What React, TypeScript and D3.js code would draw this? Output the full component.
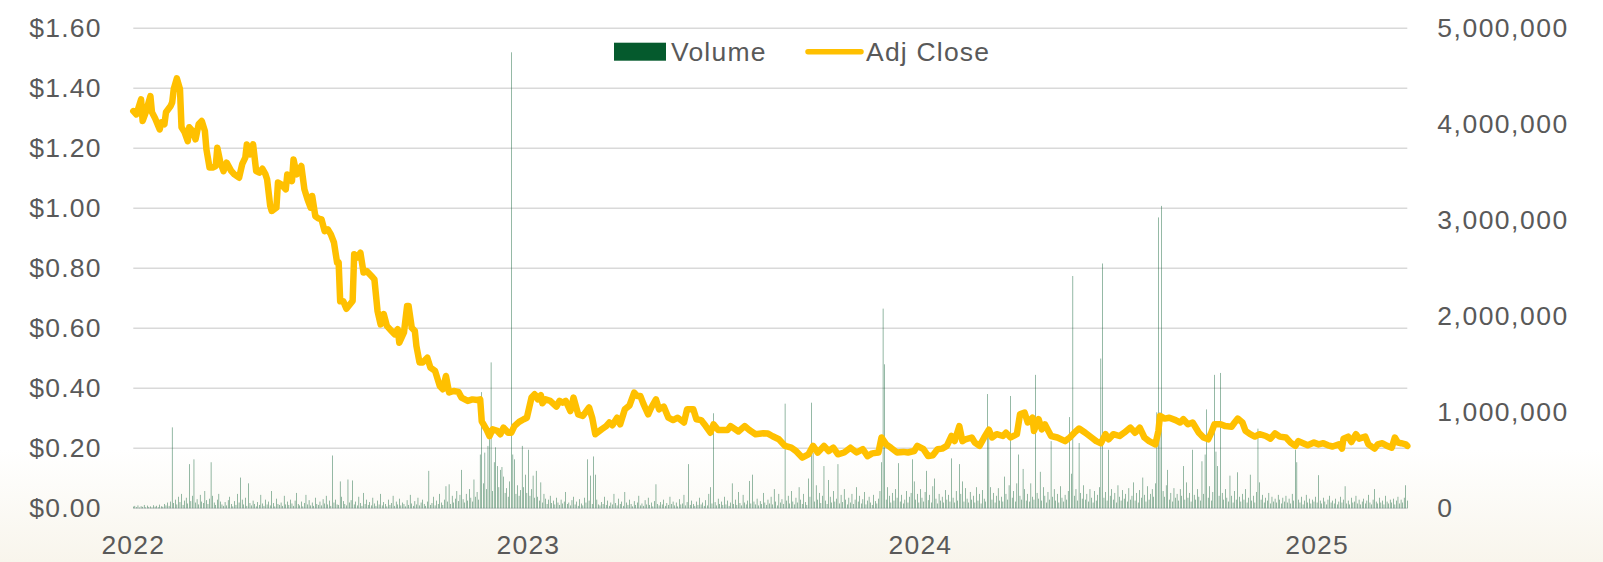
import React from 'react';
import * as d3 from 'd3';

const W = 1603;
const H = 562;

// Adj Close: trading-day index and value
const priceDays = [0,2,5,6,8,11,12,14,17,18,20,21,24,25,26,28,30,31,33,35,36,38,40,42,44,46,47,49,51,53,54,56,58,60,63,65,68,70,72,73,75,77,79,81,83,85,86,88,89,92,93,95,98,99,102,103,105,108,110,112,114,115,117,119,121,123,125,127,129,131,132,133,135,137,141,142,144,146,148,150,154,155,157,159,161,163,166,168,170,171,174,176,177,179,181,182,184,186,189,191,194,197,199,201,203,206,209,211,215,218,221,223,224,227,229,231,234,236,238,241,243,245,248,251,253,256,258,260,262,263,265,268,272,274,276,278,281,283,286,289,293,295,297,301,304,306,308,311,313,316,319,322,324,326,328,331,333,336,338,341,344,347,350,354,356,360,362,365,368,371,373,376,379,382,384,389,393,396,400,405,408,411,415,419,423,426,430,434,437,440,444,447,450,453,457,461,465,469,472,475,479,481,484,487,491,495,498,502,504,508,511,514,517,520,523,526,528,531,533,535,539,541,544,547,550,552,555,559,561,564,568,570,573,575,578,579,582,584,586,590,594,599,602,605,608,612,616,619,622,625,627,630,634,637,641,644,647,650,653,657,659,660,663,666,670,673,675,678,681,685,688,691,693,695,699,702,706,708,710,713,715,718,721,724,728,731,734,737,741,744,747,749,752,755,759,762,765,768,771,775,777,778,781,783,786,788,792,794,798,800,803,806,809,811,813,815,818,819];
const priceValues = [1.324,1.313,1.363,1.291,1.32,1.374,1.32,1.30,1.263,1.287,1.28,1.32,1.341,1.353,1.397,1.433,1.397,1.27,1.253,1.224,1.27,1.258,1.23,1.28,1.291,1.258,1.197,1.136,1.136,1.141,1.202,1.152,1.124,1.152,1.124,1.113,1.102,1.147,1.169,1.213,1.18,1.213,1.124,1.119,1.132,1.113,1.097,1.008,0.991,1.002,1.086,1.08,1.063,1.113,1.091,1.163,1.113,1.141,1.063,1.03,1.002,1.041,0.974,0.966,0.963,0.924,0.93,0.913,0.886,0.819,0.82,0.69,0.69,0.665,0.691,0.847,0.836,0.852,0.786,0.791,0.769,0.763,0.658,0.613,0.647,0.608,0.591,0.58,0.597,0.552,0.586,0.674,0.674,0.602,0.591,0.541,0.486,0.486,0.502,0.469,0.458,0.408,0.397,0.441,0.386,0.391,0.388,0.369,0.358,0.363,0.361,0.363,0.29,0.263,0.241,0.263,0.258,0.247,0.269,0.252,0.252,0.274,0.288,0.297,0.302,0.369,0.38,0.363,0.377,0.35,0.363,0.358,0.339,0.358,0.352,0.358,0.324,0.369,0.313,0.308,0.336,0.302,0.247,0.263,0.274,0.286,0.277,0.302,0.28,0.33,0.343,0.386,0.374,0.374,0.347,0.313,0.336,0.363,0.33,0.339,0.302,0.294,0.302,0.286,0.33,0.33,0.297,0.294,0.274,0.252,0.28,0.261,0.261,0.261,0.274,0.256,0.274,0.261,0.247,0.25,0.249,0.24,0.23,0.208,0.202,0.191,0.169,0.18,0.208,0.186,0.208,0.191,0.202,0.18,0.186,0.202,0.186,0.197,0.174,0.183,0.186,0.236,0.213,0.202,0.186,0.188,0.186,0.191,0.208,0.197,0.174,0.177,0.197,0.199,0.208,0.241,0.224,0.274,0.224,0.23,0.236,0.219,0.208,0.236,0.262,0.236,0.247,0.241,0.252,0.236,0.247,0.313,0.319,0.286,0.302,0.258,0.297,0.263,0.28,0.241,0.236,0.224,0.236,0.252,0.266,0.252,0.236,0.224,0.217,0.247,0.23,0.247,0.241,0.252,0.269,0.252,0.269,0.236,0.224,0.213,0.258,0.308,0.299,0.302,0.294,0.286,0.297,0.28,0.286,0.252,0.236,0.23,0.252,0.28,0.28,0.274,0.272,0.286,0.299,0.286,0.258,0.247,0.239,0.247,0.241,0.232,0.25,0.239,0.236,0.219,0.208,0.224,0.217,0.21,0.219,0.213,0.217,0.21,0.206,0.213,0.199,0.232,0.239,0.221,0.247,0.232,0.239,0.213,0.199,0.213,0.217,0.208,0.202,0.236,0.219,0.217,0.213,0.208];

// Volume per trading day, in thousands of shares
const volumeK = [
18,25,12,30,8,22,15,35,10,28,14,20,9,32,17,26,11,38,21,16,
45,30,60,25,70,843,55,90,40,120,65,150,35,80,110,50,460,75,130,510,
60,95,40,140,70,55,180,85,45,100,480,130,60,35,90,150,70,40,25,65,
30,85,120,45,20,75,35,150,60,320,90,40,110,25,260,55,30,80,45,20,
65,35,140,50,25,90,40,70,30,180,55,20,100,45,35,60,25,130,40,70,
35,90,50,25,80,160,45,30,70,20,55,140,40,85,30,60,25,110,45,35,
70,30,95,50,130,40,80,25,550,60,90,40,35,280,120,75,45,30,300,60,
85,290,40,70,30,120,55,25,160,45,90,35,65,30,110,50,25,80,40,150,
30,65,45,20,90,35,55,130,25,70,40,100,30,60,45,20,85,35,140,50,
25,75,40,110,30,60,90,45,25,70,390,35,55,120,30,80,45,150,60,35,
90,230,70,250,45,130,60,100,180,75,140,400,95,60,150,80,200,110,70,300,
120,170,90,560,1210,260,580,200,650,720,1520,180,480,635,440,220,400,430,330,160,
210,120,280,4750,560,510,150,240,130,190,650,220,350,160,610,130,200,340,110,390,
120,80,270,60,150,100,45,90,130,55,80,40,110,60,35,90,50,70,170,45,
60,30,85,120,40,70,25,95,50,30,110,60,510,80,340,45,540,350,90,40,
30,65,45,120,35,80,25,60,40,150,55,30,100,45,70,25,170,60,35,90,
45,20,75,35,60,130,30,50,25,85,40,110,35,60,20,75,250,45,30,65,
40,90,25,55,35,120,45,70,30,60,20,95,40,50,140,30,65,460,35,80,
45,25,70,35,110,40,60,25,85,30,150,220,50,990,65,30,100,45,70,35,
120,40,80,25,60,260,45,90,35,170,55,30,140,60,40,80,285,50,350,70,
40,100,30,75,45,160,60,35,90,50,120,40,200,70,30,150,60,95,45,1090,
80,130,50,180,70,40,110,60,220,90,45,150,65,35,310,120,1100,580,70,240,
90,160,55,130,440,80,45,295,120,60,180,70,100,460,50,140,65,200,90,40,
110,60,150,45,90,220,70,130,50,95,170,40,80,120,60,35,140,75,50,100,
180,480,2080,1500,90,220,130,60,160,80,200,110,470,70,140,50,90,180,60,120,
160,510,280,90,150,60,200,110,70,170,390,85,140,60,230,310,100,50,150,80,
120,60,190,90,140,70,520,110,60,180,80,460,150,280,70,210,100,60,170,90,
130,60,220,80,150,50,190,100,70,1190,800,220,90,160,60,130,210,80,120,70,
330,150,90,240,1170,110,180,70,260,560,130,90,410,200,80,150,70,260,120,90,
1390,160,100,380,80,220,130,60,170,90,700,120,200,80,150,60,230,110,70,140,
90,180,950,360,2420,130,200,80,680,160,100,240,90,150,70,200,110,60,180,80,
140,220,1560,2550,110,170,80,610,130,200,90,160,60,240,120,80,190,100,150,70,
210,90,130,270,80,160,60,190,110,320,140,70,230,90,150,200,120,260,1000,3030,
1000,3150,180,120,240,400,90,160,70,210,110,150,80,200,130,440,90,270,110,160,
70,610,140,90,200,120,80,490,150,560,1030,110,230,80,170,1390,590,440,130,1410,
160,90,200,110,70,340,130,60,180,90,375,120,70,150,90,200,60,110,350,80,
130,60,170,830,270,90,140,60,110,80,160,50,120,70,100,60,140,90,50,110,
70,130,60,100,50,150,80,610,480,90,60,120,40,80,140,60,100,50,90,70,
120,60,345,80,50,110,70,40,90,130,60,80,50,100,40,70,120,60,90,230,
50,80,40,110,60,70,130,50,90,40,70,100,50,80,140,60,40,90,200,70,
50,110,60,80,40,130,70,50,90,60,100,40,80,120,50,90,60,110,240,80
];

const yearLabels = ['2022', '2023', '2024', '2025'];
const yearLabelDays = [0, 254, 506, 761];
const priceTicks = [0, 0.2, 0.4, 0.6, 0.8, 1.0, 1.2, 1.4, 1.6];
const volumeTicks = [0, 1000000, 2000000, 3000000, 4000000, 5000000];
const legendNames = ['Volume', 'Adj Close'];

const GREEN = '#055a2d';
const GOLD = '#ffc000';
const TEXT = '#595959';
const GRID = '#d9d9d9';
const FONT = '"Liberation Sans", Arial, sans-serif';

export default function App() {
  const left = 133.3, right = 1407.3, top = 28.3, bottom = 508.3;
  const N = volumeK.length;
  const x = d3.scaleLinear().domain([0, N - 1]).range([left, right]);
  const yP = d3.scaleLinear().domain([0, 1.6]).range([bottom, top]);
  const yV = d3.scaleLinear().domain([0, 5000000]).range([bottom, top]);
  const pts = priceDays.map((d, i) => [d, priceValues[i]] as [number, number]);
  const lineGen = d3.line<[number, number]>().x(d => x(d[0])).y(d => yP(d[1]));
  const bw = 0.5;
  const fmtV = d3.format(',');
  const fs = 26.5;

  return (
    <svg width={W} height={H} style={{ position: 'absolute', left: 0, top: 0 }} fontFamily={FONT}>
      <defs>
        <linearGradient id="bg" x1="0" y1="0" x2="0" y2="1">
          <stop offset="0" stopColor="#ffffff" />
          <stop offset="0.8" stopColor="#ffffff" />
          <stop offset="1" stopColor="#f8f5ec" />
        </linearGradient>
      </defs>
      <rect x={0} y={0} width={W} height={H} fill="url(#bg)" />
      {priceTicks.map(t => (
        <line key={'g' + t} x1={left} x2={right} y1={yP(t)} y2={yP(t)} stroke={GRID} strokeWidth={1.5} />
      ))}
      {volumeK.map((v, i) => (
        <rect key={'v' + i} x={x(i) - bw / 2} width={bw} y={yV(v * 1000)} height={bottom - yV(v * 1000)} fill={GREEN} fillOpacity={0.85} />
      ))}
      <path d={lineGen(pts) || ''} fill="none" stroke={GOLD} strokeWidth={6.5} strokeLinejoin="round" strokeLinecap="round" />
      {priceTicks.map(t => (
        <text key={'l' + t} x={101.7} y={yP(t)} textAnchor="end" dominantBaseline="central" fontSize={fs} fill={TEXT} letterSpacing={1.2}>
          {'$' + t.toFixed(2)}
        </text>
      ))}
      {volumeTicks.map(t => (
        <text key={'r' + t} x={1437.3} y={yV(t)} textAnchor="start" dominantBaseline="central" fontSize={fs} fill={TEXT} letterSpacing={1.5}>
          {fmtV(t)}
        </text>
      ))}
      {yearLabels.map((lab, i) => (
        <text key={'x' + lab} x={x(yearLabelDays[i])} y={554} textAnchor="middle" fontSize={fs} fill={TEXT} letterSpacing={1.2}>
          {lab}
        </text>
      ))}
      <g>
        <rect x={614} y={42.7} width={52} height={18} fill={GREEN} />
        <text x={671} y={60.5} fontSize={fs} fill={TEXT} letterSpacing={1.2}>{legendNames[0]}</text>
        <line x1={808} x2={861} y1={51.7} y2={51.7} stroke={GOLD} strokeWidth={5.5} strokeLinecap="round" />
        <text x={866} y={60.5} fontSize={fs} fill={TEXT} letterSpacing={1.2}>{legendNames[1]}</text>
      </g>
    </svg>
  );
}
